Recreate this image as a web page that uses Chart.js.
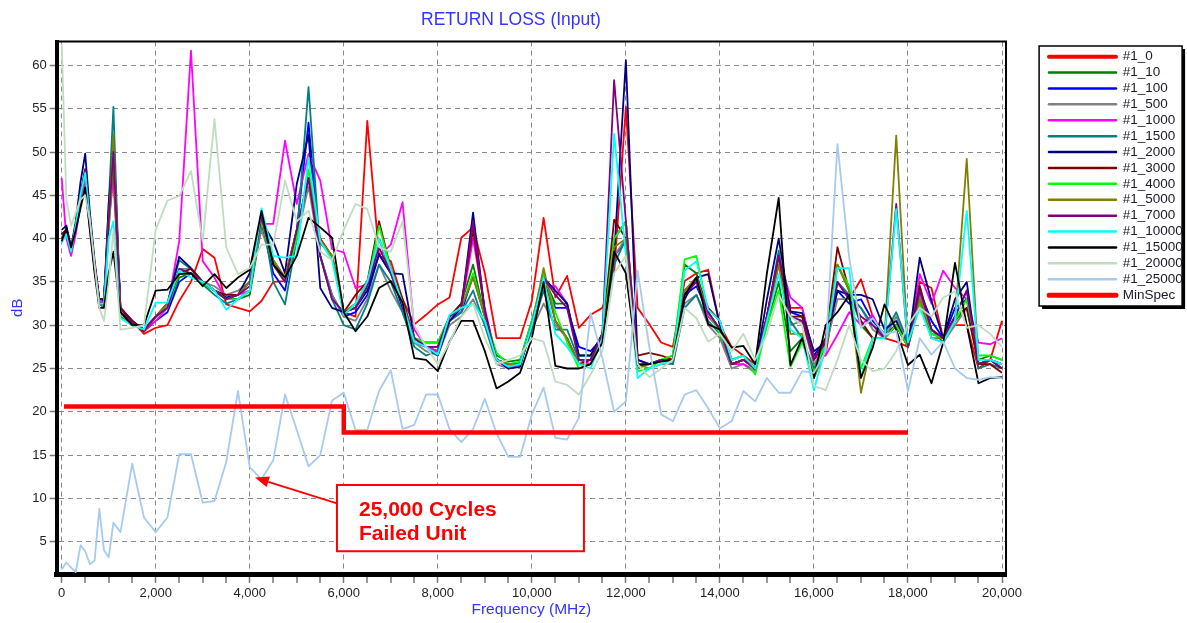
<!DOCTYPE html>
<html>
<head>
<meta charset="utf-8">
<title>RETURN LOSS (Input)</title>
<script src="https://cdn.jsdelivr.net/npm/chart.js@4.4.1/dist/chart.umd.min.js"></script>
<style>
  html, body { margin: 0; padding: 0; background: #fff; }
</style>
</head>
<body>
<canvas id="returnLossChart" width="1187" height="623"></canvas>
<script>
// sample frequencies (MHz), shared by every cycle-count trace
var freqMHz = [0, 100, 200, 300, 400, 500, 600, 700, 800, 900, 1000, 1100,
  1250, 1500, 1750, 2000, 2250, 2500, 2750, 3000, 3250, 3500, 3750, 4000, 4250, 4500, 4750,
  5000, 5250, 5500, 5750, 6000, 6250, 6500, 6750, 7000, 7250, 7500, 7750, 8000, 8250, 8500, 8750, 9000, 9250, 9500, 9750,
  10000, 10250, 10500, 10750, 11000, 11250, 11500, 11750, 12000, 12250, 12500, 12750, 13000, 13250, 13500, 13750, 14000, 14250, 14500, 14750,
  15000, 15250, 15500, 15750, 16000, 16250, 16500, 16750, 17000, 17250, 17500, 17750, 18000, 18250, 18500, 18750, 19000, 19250, 19500, 19750, 20000];

// return loss (dB) per cycle count
var rl0 = [40, 40.5, 38.5, 41, 44.5, 47.5, 42, 37, 33, 33, 42, 47,
  32, 30.5, 29, 29.7, 30, 32.8, 35, 38.8, 37.8, 32.4, 32, 31.6, 32.8, 35, 35.1,
  40, 47, 40, 38, 31.5, 31, 53.6, 38, 37.4, 33, 30.1, 31.2, 32.4, 33.2, 40.1, 41.3, 36, 28.5, 28.5, 28.5,
  32.8, 42.4, 33.2, 35.7, 29.7, 31.2, 32, 36, 55.2, 32, 30.1, 28, 27.5, 35.1, 36, 36.4, 30, 27.5, 26.5, 25.5,
  31, 38, 32, 32, 26.5, 26.6, 35, 33, 35.3, 31, 28.5, 28.1, 27.5, 35, 34.3, 28.5, 30, 30, 25, 26, 30.5];
var rl10 = [40, 41, 38.5, 41.5, 45, 47.5, 42, 36.5, 32.5, 32.5, 42, 52,
  31.5, 30.2, 29.5, 31, 32, 35.5, 36, 34.8, 34, 33, 33, 33.5, 41.5, 37, 35,
  40, 47, 39.7, 38, 31.5, 32, 34.5, 40, 36.5, 32.5, 28.5, 28, 28, 31, 32.5, 37, 31, 26.5, 25.8, 26,
  30.5, 35.5, 32.5, 32.5, 26.5, 26.5, 29, 40, 42, 25.5, 25.5, 26, 26.5, 37, 36, 31.5, 29.5, 25.5, 26, 25,
  30, 35, 27, 28.5, 24.5, 27.5, 37, 34, 30, 28.5, 28.5, 30, 27.5, 33, 29, 28.5, 30.5, 32, 26, 26.5, 26];
var rl100 = [40.5, 41, 38.5, 41.5, 45, 48, 42, 37, 32.5, 33, 43, 50,
  31.5, 30.5, 29.3, 30.5, 31.5, 35, 36, 35, 34, 33, 33, 34, 42, 36, 34,
  41, 53.4, 38, 33.5, 31, 31.5, 33.5, 38.2, 36, 32, 28, 27.5, 27, 30.5, 31.5, 35.7, 31, 26, 25.5, 25.5,
  30, 35, 32, 32, 27.5, 27, 28.5, 38, 39.7, 25.5, 25.5, 26, 26, 33.5, 34.5, 31.5, 29.5, 25.5, 26, 25,
  31, 37, 31.5, 31, 26.5, 28.5, 34, 32.5, 33, 30.5, 29, 30, 27.5, 34, 30.5, 28.5, 32, 33, 25.5, 26, 25.5];
var rl500 = [40, 41, 38.8, 41.5, 45, 47, 41.5, 36.5, 32.5, 32.5, 41, 48,
  31.5, 30.2, 29.5, 31, 32.5, 36.5, 36.5, 35, 34.5, 33.5, 34, 35, 41, 37, 35,
  40, 46, 38, 33.5, 31, 30.5, 33, 37, 34, 31.5, 28, 27, 26.5, 30, 31, 33, 30, 25.5, 25, 25.5,
  29.5, 32.5, 30, 28.5, 25.5, 25.5, 28, 38, 40, 25.5, 25, 25.5, 25.5, 32.5, 33.5, 30, 28.5, 25, 25.5, 24.5,
  30.5, 38, 30, 30.5, 25.5, 27.5, 33, 33, 32, 29.5, 28.5, 31, 28, 33.5, 28.5, 28, 30, 32, 25.5, 26, 25.5];
var rl1000 = [47, 40, 38, 40.5, 44, 46.5, 41, 36.5, 33, 32.5, 42, 48,
  32, 30.5, 29.3, 30.5, 32, 39.7, 61.7, 37.4, 35.5, 33, 33.5, 34, 41.7, 41.7, 51.3,
  44, 49.8, 46.7, 38.8, 38.4, 34.3, 34.7, 38, 39.3, 44.2, 29.5, 27.5, 27, 30.5, 32, 40, 32, 26, 25, 25.5,
  30, 34.5, 34.5, 32.5, 26, 25.5, 28.5, 40, 41.9, 26, 25.5, 26, 26, 34, 35, 31, 29.5, 25.5, 25.5, 24.8,
  31, 38, 33.2, 32, 26.2, 26.5, 28.9, 31.5, 30, 31.2, 28.5, 30, 27.5, 35.9, 32.5, 36.3, 34.3, 33, 28, 27.8, 28.5];
var rl1500 = [40, 41, 38.5, 41.5, 45, 47.5, 42, 36.5, 32.5, 32, 44, 55.2,
  31, 30, 29.5, 31, 32.5, 37.5, 36.5, 34.7, 33.5, 32.5, 33, 34, 43, 35, 32.4,
  40, 57.5, 38, 33, 30, 29.5, 32.5, 37, 35, 31.5, 27.5, 26.5, 27, 30.5, 31.5, 34, 30, 26, 25.2, 25.5,
  29.5, 34, 29.5, 29.5, 26, 26, 28.5, 37, 40, 25.5, 25.5, 26, 25.5, 32, 33.5, 30.5, 29, 25.5, 26, 25,
  31, 38.6, 30.5, 28.5, 25, 28, 35, 33.5, 32, 30, 29, 31.5, 28, 34.5, 29.5, 28, 31, 34, 25, 25.5, 25];
var rl2000 = [41, 41.5, 39, 42, 46.5, 49.8, 43, 37.5, 33, 33, 44, 51,
  32, 30.5, 29.5, 31, 32.5, 37.9, 36.6, 35, 34, 33.2, 33.5, 36, 42, 39.7, 36,
  46.3, 52, 34.3, 32, 31.5, 32, 34, 38.2, 36, 35.9, 28.5, 27.5, 26.5, 30.5, 32, 43, 31.5, 26, 25, 25.2,
  30, 35.5, 34, 32.5, 26.5, 26.5, 29, 38, 60.6, 26, 25.5, 26, 26, 33, 35.5, 35.9, 30, 25.5, 26, 25,
  33, 40, 31.6, 31.4, 27, 28, 34, 33.5, 33.5, 33, 29.5, 30.5, 27.5, 37.8, 32.8, 28.5, 33, 35, 25.5, 26, 25];
var rl3000 = [40.5, 41, 38.5, 41.5, 45, 48, 42, 37, 33, 33, 42, 49,
  32, 30.5, 29.3, 31, 32.5, 36, 36.5, 35, 34, 33.5, 33.5, 35, 42, 37.5, 35.5,
  41, 47, 39.5, 38, 31.5, 33.5, 35, 42, 36.5, 33, 28.5, 27.5, 27.5, 31, 32.5, 41, 31.5, 26, 25.5, 25.5,
  30, 36, 30.5, 28.5, 25.5, 26, 29, 42.2, 40, 26.5, 26.8, 26.5, 26, 34, 35.5, 32, 30.5, 26, 26.5, 25,
  31, 38, 31, 31, 26, 28.5, 39, 34, 30.5, 28.5, 28.5, 30, 27.5, 34.5, 29.5, 28.5, 31, 32, 25.5, 25.5, 24.5];
var rl4000 = [40, 41, 38.5, 41.5, 45, 47.5, 42, 36.5, 32.5, 32.5, 41, 50,
  31, 30, 29.5, 31, 32, 36, 36, 34.8, 34, 33, 33, 34, 42, 37, 35,
  40, 48, 39.7, 38, 31.5, 32, 34.5, 41.5, 36.5, 32.5, 28.5, 28, 28, 31, 32, 36, 31, 26.8, 25.5, 25.8,
  30.5, 36, 31.5, 28, 25, 25.5, 28.5, 40, 41.9, 24.7, 25, 26, 26.5, 37.6, 38, 31.5, 29, 26, 26.5, 24.3,
  30, 34, 25.2, 28, 24.5, 28, 37, 34.5, 25, 28.5, 28.5, 30, 27.5, 32.5, 29, 28.5, 30.5, 33, 26.5, 26.5, 26];
var rl5000 = [40, 41, 38.5, 41.5, 45, 47.5, 42, 36.5, 32.5, 32.5, 42, 52,
  31, 30, 29.5, 31, 32.5, 36, 36, 35, 34, 33, 33.5, 35, 43, 37.5, 35.5,
  41, 47, 39.7, 38, 31.5, 32.5, 35, 40, 36, 32.5, 28.5, 27.5, 27.5, 31, 32, 35.5, 31, 26, 25.5, 25.5,
  30, 36.6, 30.5, 28.5, 25.5, 25.5, 28.5, 39, 40, 25, 25.5, 26, 26, 34, 35.5, 31.5, 29.5, 25.5, 26, 25,
  30.5, 37, 29, 29, 23.9, 27, 37, 34, 22.2, 28.5, 28.5, 51.9, 27.4, 33, 28.5, 28.5, 30.5, 49.2, 25.5, 26, 25.5];
var rl7000 = [40, 41, 38.5, 41.5, 45, 48, 42, 37, 32.5, 32.5, 42, 50,
  31.5, 30.2, 29.5, 31, 32, 36.5, 36, 35, 34, 33, 33.5, 34.5, 42.5, 37, 35,
  41, 47, 38, 33, 31.5, 32, 34.5, 39, 36, 32.5, 28.5, 27.5, 27.5, 31, 32, 42, 31.5, 26, 25.2, 25.5,
  30, 35.5, 33.5, 32, 26, 26, 29, 58.3, 42, 25.5, 25.5, 26, 26, 33.5, 35, 31.5, 29.5, 25.5, 26, 25,
  31, 38, 31, 30.5, 26, 28, 35, 33, 31, 30, 28.5, 44, 27.5, 34, 29.5, 28.5, 31, 34, 25.5, 26, 25];
var rl10000 = [39.5, 40.5, 38.5, 41.5, 45, 47.6, 42, 36.5, 32.5, 32.5, 40, 42,
  30.8, 30, 29.5, 32.6, 32.6, 36.3, 35.5, 35, 34, 31.8, 33, 34, 43.5, 38, 37.8,
  38, 49.4, 39.7, 37.5, 31.2, 32.5, 35, 40, 36.5, 32.5, 28.1, 27.5, 26.6, 31.2, 32, 32.5, 30.5, 26, 25.2, 25.5,
  30, 35.5, 29, 27.5, 25.5, 25, 28.5, 52.1, 38, 23.9, 25, 25.5, 26, 36.3, 37.4, 31.8, 30.5, 26, 26.5, 25,
  30.5, 35.9, 29.5, 28.5, 22.5, 27.5, 36.6, 36.6, 24, 28.5, 28.5, 43.4, 28, 32, 28.5, 28, 30.5, 43.2, 26, 26, 25.5];
var rl15000 = [39.7, 41.2, 39, 41, 43.5, 45.9, 41, 36, 32, 32, 36, 38.5,
  31.5, 30, 30, 34, 34.1, 35.9, 36, 34.5, 35.9, 34.3, 35.5, 36.4, 43.2, 37, 35.5,
  38, 42.4, 41.3, 40.1, 31.5, 29.3, 31, 34.3, 35.1, 32.6, 26.2, 26, 24.7, 28.1, 30.5, 30.5, 27, 22.7, 23.5, 24.5,
  28.5, 35, 25.3, 25, 25, 25.5, 28, 38.5, 36, 25.4, 25.5, 25.8, 26, 33.5, 35.5, 30.1, 29.5, 27.4, 27.6, 25.5,
  36, 44.7, 25.4, 28.5, 23.9, 30, 31.5, 33.5, 23.9, 27.4, 32.4, 29.5, 25.4, 26.6, 23.3, 28, 37.2, 30, 23.3, 23.9, 24];
var rl20000 = [62.5, 44.5, 41.5, 43, 44.5, 45, 42, 37, 32, 30.5, 35, 41,
  29.5, 29.7, 30, 41, 44.4, 44.9, 47.8, 39.7, 53.8, 39, 35.9, 36.6, 39.3, 39.3, 46.7,
  42, 43.2, 38.5, 37.5, 41, 44, 43.4, 39, 38.5, 42, 30, 27.5, 25.5, 28, 31, 32.5, 28.5, 25.5, 26, 26.5,
  28.5, 28.1, 23.5, 23.1, 22, 24.3, 27, 36, 38, 25.5, 24, 25, 26, 32, 30.8, 28.1, 29, 27, 29, 26,
  29, 33.5, 31, 30, 23, 22.5, 26, 30, 26, 24.7, 25, 27, 30, 32, 31, 33.2, 33.9, 29.7, 30, 29, 27.5];
var rl25000 = [1.8, 2.6, 2.0, 1.5, 4.6, 3.9, 2.4, 2.8, 8.8, 4.0, 3.2, 7.2,
  6.1, 14.0, 7.8, 6.1, 7.8, 15.1, 15.1, 9.5, 9.7, 14.2, 22.4, 13.6, 12.2, 14.4, 22.0,
  17.9, 13.7, 15.0, 21.3, 22.2, 17.9, 17.9, 22.4, 24.8, 18.0, 18.5, 22.0, 22.0, 18.0, 16.5, 18.0, 21.5, 17.5, 14.8, 14.8,
  19.7, 22.8, 17.0, 16.8, 19.3, 31.4, 26.2, 20.0, 21.2, 36.3, 27.4, 19.7, 18.9, 22.0, 22.5, 20.4, 18.1, 18.9, 22.4, 21.2,
  23.9, 22.2, 22.2, 24.7, 24.5, 27.0, 50.9, 37.8, 29.7, 30.8, 28.9, 29.3, 22.4, 28.5, 26.6, 28.1, 25.0, 23.9, 23.7, 24.0, 23.9];

// minimum spec limit (step)
var minSpecFreq = [50, 6000, 6000, 18000];
var minSpecDb = [20.6, 20.6, 17.6, 17.6];

var seriesNames = ["#1_0", "#1_10", "#1_100", "#1_500", "#1_1000", "#1_1500", "#1_2000", "#1_3000",
  "#1_4000", "#1_5000", "#1_7000", "#1_10000", "#1_15000", "#1_20000", "#1_25000"];
var seriesValues = [rl0, rl10, rl100, rl500, rl1000, rl1500, rl2000, rl3000,
  rl4000, rl5000, rl7000, rl10000, rl15000, rl20000, rl25000];

// tick values
var yTickValues = [5, 10, 15, 20, 25, 30, 35, 40, 45, 50, 55, 60];
var xTickValues = [0, 500, 1000, 1500, 2000, 2500, 3000, 3500, 4000, 4500, 5000, 5500, 6000, 6500, 7000, 7500,
  8000, 8500, 9000, 9500, 10000, 10500, 11000, 11500, 12000, 12500, 13000, 13500, 14000, 14500, 15000,
  15500, 16000, 16500, 17000, 17500, 18000, 18500, 19000, 19500, 20000];
var xLabelTicks = [0, 2000, 4000, 6000, 8000, 10000, 12000, 14000, 16000, 18000, 20000];

// styling
var seriesColors = ["#ff0000", "#008000", "#0000ff", "#808080", "#ff00ff", "#008080", "#000080", "#800000",
  "#00ff00", "#808000", "#800080", "#00ffff", "#000000", "#c0dcc0", "#a6caf0"];
var minSpecColor = "#ff0000";
var legendLineWidths = [4, 2.5, 2.5, 2.5, 2.5, 2.5, 2.5, 2.5, 2.5, 2.5, 2.5, 2.5, 2.5, 2.5, 2.5, 5];
var FONT = '"Liberation Sans", Arial, sans-serif';
var TITLE_BLUE = "#3333ff";

// callout for the failed unit (data coordinates)
var failNote = {
  tip: { x: 4110, y: 12.4 },
  boxFrom: { x: 5855, y: 11.55 },
  boxTo: { x: 11108, y: 3.9 },
  lines: ["25,000 Cycles", "Failed Unit"]
};

document.addEventListener("DOMContentLoaded", function () {
  var ctx = document.getElementById("returnLossChart").getContext("2d");

  var datasets = seriesNames.map(function (name, i) {
    return {
      label: name,
      data: freqMHz.map(function (f, j) { return { x: f, y: seriesValues[i][j] }; }),
      borderColor: seriesColors[i],
      backgroundColor: seriesColors[i],
      borderWidth: 1.8,
      borderJoinStyle: "round",
      pointRadius: 0,
      tension: 0,
      fill: false,
      order: -i // later series drawn on top
    };
  });
  datasets.push({
    label: "MinSpec",
    data: minSpecFreq.map(function (f, j) { return { x: f, y: minSpecDb[j] }; }),
    borderColor: minSpecColor,
    backgroundColor: minSpecColor,
    borderWidth: 4.5,
    pointRadius: 0,
    tension: 0,
    fill: false,
    order: -20
  });

  var decorPlugin = {
    id: "decor",
    beforeDraw: function (chart) {
      var c = chart.ctx;
      var lg = chart.legend;
      var bx = lg.left - 7.5, by = 46, bw = 143, bh = 260;
      c.save();
      c.fillStyle = "#ffffff";
      c.fillRect(0, 0, chart.width, chart.height);
      // legend frame with drop shadow
      c.fillStyle = "#000";
      c.fillRect(bx + 3, by + 3, bw, bh);
      c.fillStyle = "#fff";
      c.fillRect(bx, by, bw, bh);
      c.lineWidth = 1.5;
      c.strokeStyle = "#000";
      c.strokeRect(bx, by, bw, bh);
      c.restore();
    },
    afterDraw: function (chart) {
      var c = chart.ctx;
      var a = chart.chartArea;
      var xs = chart.scales.x, ys = chart.scales.y;
      c.save();
      // thin top/right frame of the plot
      c.strokeStyle = "#000";
      c.lineWidth = 2;
      c.beginPath();
      c.moveTo(a.left, a.top);
      c.lineTo(a.right, a.top);
      c.lineTo(a.right, a.bottom);
      c.stroke();

      // chart title
      c.fillStyle = TITLE_BLUE;
      c.font = "17.5px " + FONT;
      c.textAlign = "center";
      c.textBaseline = "alphabetic";
      c.fillText("RETURN LOSS (Input)", 511, 24.5);

      // callout box
      var x0 = xs.getPixelForValue(failNote.boxFrom.x), y0 = ys.getPixelForValue(failNote.boxFrom.y);
      var x1 = xs.getPixelForValue(failNote.boxTo.x), y1 = ys.getPixelForValue(failNote.boxTo.y);
      c.fillStyle = "#fff";
      c.fillRect(x0, y0, x1 - x0, y1 - y0);
      c.strokeStyle = "#ff0000";
      c.lineWidth = 2;
      c.strokeRect(x0, y0, x1 - x0, y1 - y0);
      c.fillStyle = "#ff0000";
      c.font = "bold 21px " + FONT;
      c.textAlign = "left";
      c.fillText(failNote.lines[0], x0 + 22, y0 + 31.5);
      c.fillText(failNote.lines[1], x0 + 22, y0 + 55);

      // arrow
      var tx = xs.getPixelForValue(failNote.tip.x), ty = ys.getPixelForValue(failNote.tip.y);
      var sx = x0, sy = y0 + 18.5;
      var ang = Math.atan2(ty - sy, tx - sx);
      var head = 14, half = 5.5;
      var hx = tx - head * Math.cos(ang), hy = ty - head * Math.sin(ang);
      c.strokeStyle = "#ff0000";
      c.lineWidth = 1.8;
      c.beginPath();
      c.moveTo(sx, sy);
      c.lineTo(hx, hy);
      c.stroke();
      c.beginPath();
      c.moveTo(tx, ty);
      c.lineTo(hx + half * Math.sin(ang), hy - half * Math.cos(ang));
      c.lineTo(hx - half * Math.sin(ang), hy + half * Math.cos(ang));
      c.closePath();
      c.fill();
      c.restore();
    }
  };

  new Chart(ctx, {
    type: "line",
    data: { datasets: datasets },
    plugins: [decorPlugin],
    options: {
      responsive: false,
      animation: false,
      layout: { padding: { top: 41.5, left: 0, right: 0, bottom: 0 } },
      scales: {
        x: {
          type: "linear",
          position: "bottom",
          min: -106,
          max: 20085,
          afterBuildTicks: function (s) { s.ticks = xTickValues.map(function (v) { return { value: v }; }); },
          afterFit: function (s) { s.height = 49; },
          grid: {
            color: "#8a8a8a",
            lineWidth: function (c) { return c.tick && xLabelTicks.indexOf(c.tick.value) >= 0 ? 1 : 0; },
            tickLength: 9,
            tickColor: "#777",
            tickWidth: 1.5
          },
          border: { display: true, color: "#000", width: 5, dash: [5, 4] },
          ticks: {
            autoSkip: false,
            maxRotation: 0,
            padding: 3,
            color: "#222",
            font: { family: FONT, size: 13 },
            callback: function (v) { return xLabelTicks.indexOf(v) >= 0 ? v.toLocaleString("en-US") : ""; }
          },
          title: {
            display: true,
            text: "Frequency (MHz)",
            color: TITLE_BLUE,
            font: { family: FONT, size: 15.5 },
            padding: { top: 0, bottom: 4 }
          }
        },
        y: {
          type: "linear",
          position: "left",
          min: 1.27,
          max: 62.76,
          afterBuildTicks: function (s) { s.ticks = yTickValues.map(function (v) { return { value: v }; }); },
          afterFit: function (s) { s.width = 56.7; },
          grid: { color: "#8a8a8a", lineWidth: 1, tickLength: 7, tickColor: "#777", tickWidth: 1.5 },
          border: { display: true, color: "#000", width: 4, dash: [5, 4] },
          ticks: { padding: 3, color: "#222", font: { family: FONT, size: 13 } },
          title: {
            display: true,
            text: "dB",
            color: TITLE_BLUE,
            font: { family: FONT, size: 15 },
            padding: { top: 9, bottom: 0 }
          }
        },
        // empty spacer between plot and legend
        gap: {
          type: "linear",
          position: "right",
          display: true,
          grid: { display: false, drawTicks: false },
          border: { display: false },
          ticks: { display: false },
          afterFit: function (s) { s.width = 40.6; }
        }
      },
      plugins: {
        title: { display: false },
        tooltip: { enabled: false },
        legend: {
          display: true,
          position: "right",
          align: "start",
          maxWidth: 140.4,
          title: { display: true, text: "", padding: 0, font: { size: 5 } },
          labels: {
            usePointStyle: true,
            pointStyleWidth: 67,
            padding: 2.4,
            color: "#1a1a2a",
            font: { family: FONT, size: 13.5 },
            generateLabels: function (chart) {
              return chart.data.datasets.map(function (ds, i) {
                return {
                  text: ds.label,
                  strokeStyle: ds.borderColor,
                  fillStyle: ds.borderColor,
                  lineWidth: legendLineWidths[i],
                  lineCap: "round",
                  pointStyle: "line",
                  fontColor: "#1a1a2a",
                  hidden: false,
                  datasetIndex: i
                };
              });
            }
          }
        }
      }
    }
  });
});
</script>
</body>
</html>
